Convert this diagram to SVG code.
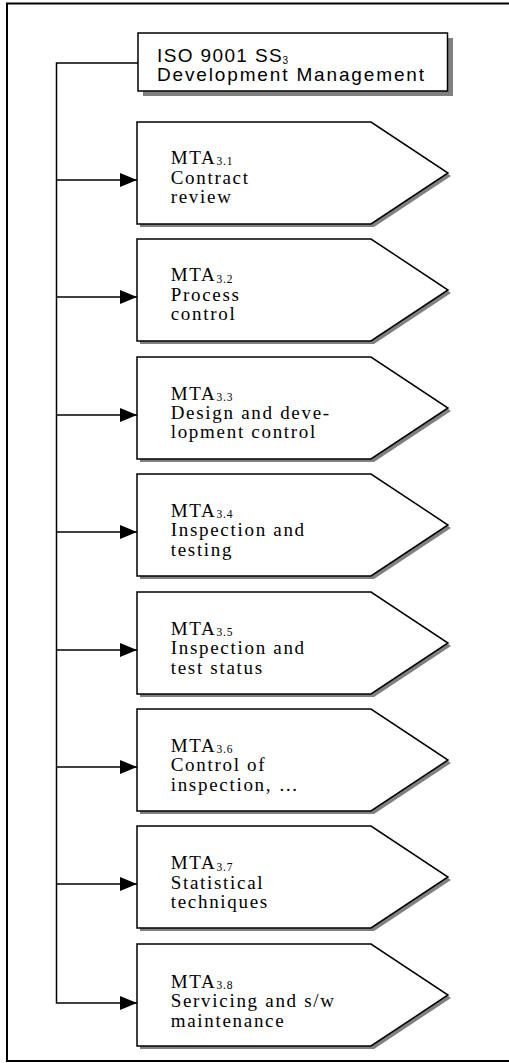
<svg xmlns="http://www.w3.org/2000/svg" width="509" height="1063" viewBox="0 0 509 1063">
  <style>
    .frame { fill: none; stroke: #000; stroke-width: 2; }
    .box { fill: #fff; stroke: #000; stroke-width: 1.5; }
    .shadow { fill: #808080; stroke: none; }
    .wire { fill: none; stroke: #000; stroke-width: 1.5; }
    .hdr { font-family: "Liberation Sans", Arial, sans-serif; font-size: 19px; fill: #000; }
    .hdr-sub { font-family: "Liberation Sans", Arial, sans-serif; font-size: 10px; fill: #000; }
    .lbl { font-family: "Liberation Serif", "Times New Roman", serif; font-size: 19px; letter-spacing: 1.7px; fill: #000; }
    .sub { font-size: 11.5px; letter-spacing: 0.8px; }
  </style>
  <defs>
    <marker id="arrow" viewBox="0 0 17 14" refX="17" refY="7" markerWidth="17" markerHeight="14" markerUnits="userSpaceOnUse" orient="auto">
      <path d="M0,0 L17,7 L0,14 Z" fill="#000"/>
    </marker>
    <path id="penta" d="M137,0 H371 L448,51 L371,102 H137 Z"/>
  </defs>

  <!-- page frame (right edge runs off the page) -->
  <rect class="frame" x="7" y="3.5" width="520" height="1057.5"/>

  <!-- connectors: spine plus one branch per activity -->
  <g id="connectors">
    <polyline class="wire" points="138,63 56.5,63 56.5,1003 137,1003" marker-end="url(#arrow)"/>
    <line class="wire" x1="56.5" y1="180" x2="137" y2="180" marker-end="url(#arrow)"/>
    <line class="wire" x1="56.5" y1="297" x2="137" y2="297" marker-end="url(#arrow)"/>
    <line class="wire" x1="56.5" y1="415" x2="137" y2="415" marker-end="url(#arrow)"/>
    <line class="wire" x1="56.5" y1="532" x2="137" y2="532" marker-end="url(#arrow)"/>
    <line class="wire" x1="56.5" y1="650" x2="137" y2="650" marker-end="url(#arrow)"/>
    <line class="wire" x1="56.5" y1="767" x2="137" y2="767" marker-end="url(#arrow)"/>
    <line class="wire" x1="56.5" y1="884" x2="137" y2="884" marker-end="url(#arrow)"/>
  </g>

  <!-- root node -->
  <g id="node-root">
    <rect class="shadow" x="143" y="38" width="310" height="58"/>
    <rect class="box" x="138" y="33" width="309.5" height="58"/>
    <text class="hdr" x="157" y="62.3" textLength="124.7" lengthAdjust="spacing">ISO 9001 SS</text>
    <text class="hdr-sub" x="282.5" y="63.5">3</text>
    <text class="hdr" x="157" y="81.3" textLength="267" lengthAdjust="spacing">Development Management</text>
  </g>

  <g id="node-mta-3-1" transform="translate(0,122)">
    <use href="#penta" class="shadow" transform="translate(3,3)"/>
    <use href="#penta" class="box"/>
    <text class="lbl" x="170.7"><tspan y="41.5">MTA</tspan><tspan class="sub" dy="1.5">3.1</tspan><tspan x="170.7" y="61.5">Contract</tspan><tspan x="170.7" y="81">review</tspan></text>
  </g>

  <g id="node-mta-3-2" transform="translate(0,239)">
    <use href="#penta" class="shadow" transform="translate(3,3)"/>
    <use href="#penta" class="box"/>
    <text class="lbl" x="170.7"><tspan y="42">MTA</tspan><tspan class="sub" dy="1.5">3.2</tspan><tspan x="170.7" y="62">Process</tspan><tspan x="170.7" y="81">control</tspan></text>
  </g>

  <g id="node-mta-3-3" transform="translate(0,357)">
    <use href="#penta" class="shadow" transform="translate(3,3)"/>
    <use href="#penta" class="box"/>
    <text class="lbl" x="170.7"><tspan y="42.5">MTA</tspan><tspan class="sub" dy="1.5">3.3</tspan><tspan x="170.7" y="62">Design and deve-</tspan><tspan x="170.7" y="81.3">lopment control</tspan></text>
  </g>

  <g id="node-mta-3-4" transform="translate(0,474)">
    <use href="#penta" class="shadow" transform="translate(3,3)"/>
    <use href="#penta" class="box"/>
    <text class="lbl" x="170.7"><tspan y="42.5">MTA</tspan><tspan class="sub" dy="1.5">3.4</tspan><tspan x="170.7" y="62">Inspection and</tspan><tspan x="170.7" y="81.5">testing</tspan></text>
  </g>

  <g id="node-mta-3-5" transform="translate(0,592)">
    <use href="#penta" class="shadow" transform="translate(3,3)"/>
    <use href="#penta" class="box"/>
    <text class="lbl" x="170.7"><tspan y="42.5">MTA</tspan><tspan class="sub" dy="1.5">3.5</tspan><tspan x="170.7" y="62">Inspection and</tspan><tspan x="170.7" y="81.5">test status</tspan></text>
  </g>

  <g id="node-mta-3-6" transform="translate(0,709)">
    <use href="#penta" class="shadow" transform="translate(3,3)"/>
    <use href="#penta" class="box"/>
    <text class="lbl" x="170.7"><tspan y="42.5">MTA</tspan><tspan class="sub" dy="1.5">3.6</tspan><tspan x="170.7" y="62">Control of</tspan><tspan x="170.7" y="81.5">inspection, …</tspan></text>
  </g>

  <g id="node-mta-3-7" transform="translate(0,826)">
    <use href="#penta" class="shadow" transform="translate(3,3)"/>
    <use href="#penta" class="box"/>
    <text class="lbl" x="170.7"><tspan y="43">MTA</tspan><tspan class="sub" dy="1.5">3.7</tspan><tspan x="170.7" y="62.5">Statistical</tspan><tspan x="170.7" y="82">techniques</tspan></text>
  </g>

  <g id="node-mta-3-8" transform="translate(0,944)">
    <use href="#penta" class="shadow" transform="translate(3,3)"/>
    <use href="#penta" class="box"/>
    <text class="lbl" x="170.7"><tspan y="43.5">MTA</tspan><tspan class="sub" dy="1.5">3.8</tspan><tspan x="170.7" y="63">Servicing and s/w</tspan><tspan x="170.7" y="82.5">maintenance</tspan></text>
  </g>
</svg>
